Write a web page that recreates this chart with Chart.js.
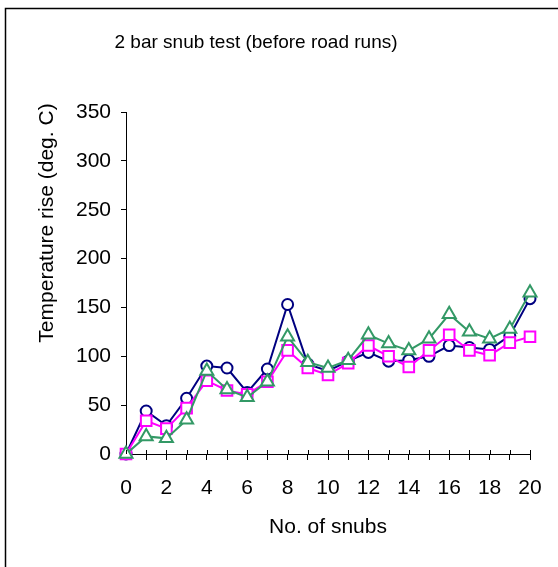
<!DOCTYPE html>
<html>
<head>
<meta charset="utf-8">
<script src="https://cdn.jsdelivr.net/npm/chart.js@4/dist/chart.umd.min.js"></script>
<style>
  html, body { margin: 0; padding: 0; background: #fff; }
  #wrap { width: 558px; height: 567px; }
</style>
</head>
<body>
<div id="wrap"><canvas id="snubChart" width="558" height="567"></canvas></div>
<script>
// Données
const snubs = [0, 1, 2, 3, 4, 5, 6, 7, 8, 9, 10, 11, 12, 13, 14, 15, 16, 17, 18, 19, 20];
const runCircle = [0, 44, 29, 57, 90, 88, 63, 87, 153, 92, 85, 95, 104, 95, 96, 100, 111, 109, 107, 121, 159];
const runSquare = [0, 34, 26, 47, 75, 65, 61, 74, 106, 88, 81, 93, 111, 100, 89, 106, 122, 106, 101, 114, 120];
const runTriangle = [0, 18, 16, 35, 85, 66, 58, 74, 120, 94, 88, 96, 122, 113, 106, 118, 143, 125, 118, 128, 165];
const yTicks = [0, 50, 100, 150, 200, 250, 300, 350];

const chartTitle = '2 bar snub test (before road runs)';
const xTitle = 'No. of snubs';
const yTitle = 'Temperature rise (deg. C)';

const FONT = "'Liberation Sans', Arial, sans-serif";

function toPoints(values) {
    return values.map((v, i) => ({ x: snubs[i], y: v }));
}

/**
 * Cadre, titres et demi-graduations au-dessus de l'axe X
 */
const decorPlugin = {
    id: 'decor',
    afterDraw(chart) {
        const ctx = chart.ctx;
        const area = chart.chartArea;
        const xScale = chart.scales.x;
        ctx.save();

        // Cadre (gauche et haut seulement visibles)
        ctx.strokeStyle = '#000';
        ctx.lineWidth = 1.5;
        ctx.beginPath();
        ctx.moveTo(5.5, 567);
        ctx.lineTo(5.5, 8.5);
        ctx.lineTo(558, 8.5);
        ctx.stroke();

        // Graduations qui traversent l'axe X
        ctx.lineWidth = 1;
        ctx.beginPath();
        xScale.ticks.forEach(t => {
            const px = Math.round(xScale.getPixelForValue(t.value)) + 0.5;
            ctx.moveTo(px, area.bottom - 4);
            ctx.lineTo(px, area.bottom);
        });
        ctx.stroke();

        // Titres
        ctx.fillStyle = '#000';
        ctx.textAlign = 'center';
        ctx.textBaseline = 'middle';
        ctx.font = '19px ' + FONT;
        ctx.fillText(chartTitle, 256, 43);

        ctx.font = '21px ' + FONT;
        ctx.fillText(xTitle, (area.left + area.right) / 2, 527);

        ctx.translate(47, 223);
        ctx.rotate(-Math.PI / 2);
        ctx.fillText(yTitle, 0, 0);
        ctx.restore();
    }
};

const ctx = document.getElementById('snubChart').getContext('2d');

new Chart(ctx, {
    type: 'line',
    data: {
        datasets: [
            {
                label: 'Circle',
                data: toPoints(runCircle),
                borderColor: '#000080',
                backgroundColor: '#ffffff',
                borderWidth: 2,
                pointStyle: 'circle',
                pointRadius: 5.5,
                pointBorderWidth: 2,
                tension: 0,
                clip: false,
                order: 3
            },
            {
                label: 'Square',
                data: toPoints(runSquare),
                borderColor: '#ff00ff',
                backgroundColor: '#ffffff',
                borderWidth: 2,
                pointStyle: 'rect',
                pointRadius: 7.5,
                pointBorderWidth: 2,
                tension: 0,
                clip: false,
                order: 2
            },
            {
                label: 'Triangle',
                data: toPoints(runTriangle),
                borderColor: '#339966',
                backgroundColor: '#ffffff',
                borderWidth: 2,
                pointStyle: 'triangle',
                pointRadius: 7.5,
                pointBorderWidth: 2,
                tension: 0,
                clip: false,
                order: 1
            }
        ]
    },
    options: {
        responsive: false,
        animation: false,
        layout: {
            padding: { left: 0, top: 112, right: 28, bottom: 0 }
        },
        plugins: {
            legend: { display: false },
            tooltip: { enabled: false },
            title: { display: false }
        },
        scales: {
            x: {
                type: 'linear',
                min: snubs[0],
                max: snubs[snubs.length - 1],
                afterFit: (scale) => { scale.height = 113; },
                afterBuildTicks: (scale) => {
                    scale.ticks = snubs.map(v => ({ value: v }));
                },
                ticks: {
                    autoSkip: false,
                    maxRotation: 0,
                    padding: 16,
                    color: '#000',
                    font: { family: FONT, size: 21 },
                    callback: (value) => (value % 2 === 0 ? String(value) : '')
                },
                grid: {
                    drawOnChartArea: false,
                    drawTicks: true,
                    tickLength: 6,
                    color: '#000'
                },
                border: { color: '#000', width: 1 }
            },
            y: {
                type: 'linear',
                min: yTicks[0],
                max: yTicks[yTicks.length - 1],
                afterFit: (scale) => { scale.width = 126; },
                afterBuildTicks: (scale) => {
                    scale.ticks = yTicks.map(v => ({ value: v }));
                },
                ticks: {
                    padding: 10,
                    color: '#000',
                    font: { family: FONT, size: 21 }
                },
                grid: {
                    drawOnChartArea: false,
                    drawTicks: true,
                    tickLength: 5,
                    color: '#000'
                },
                border: { color: '#000', width: 1 }
            }
        }
    },
    plugins: [decorPlugin]
});
</script>
</body>
</html>
